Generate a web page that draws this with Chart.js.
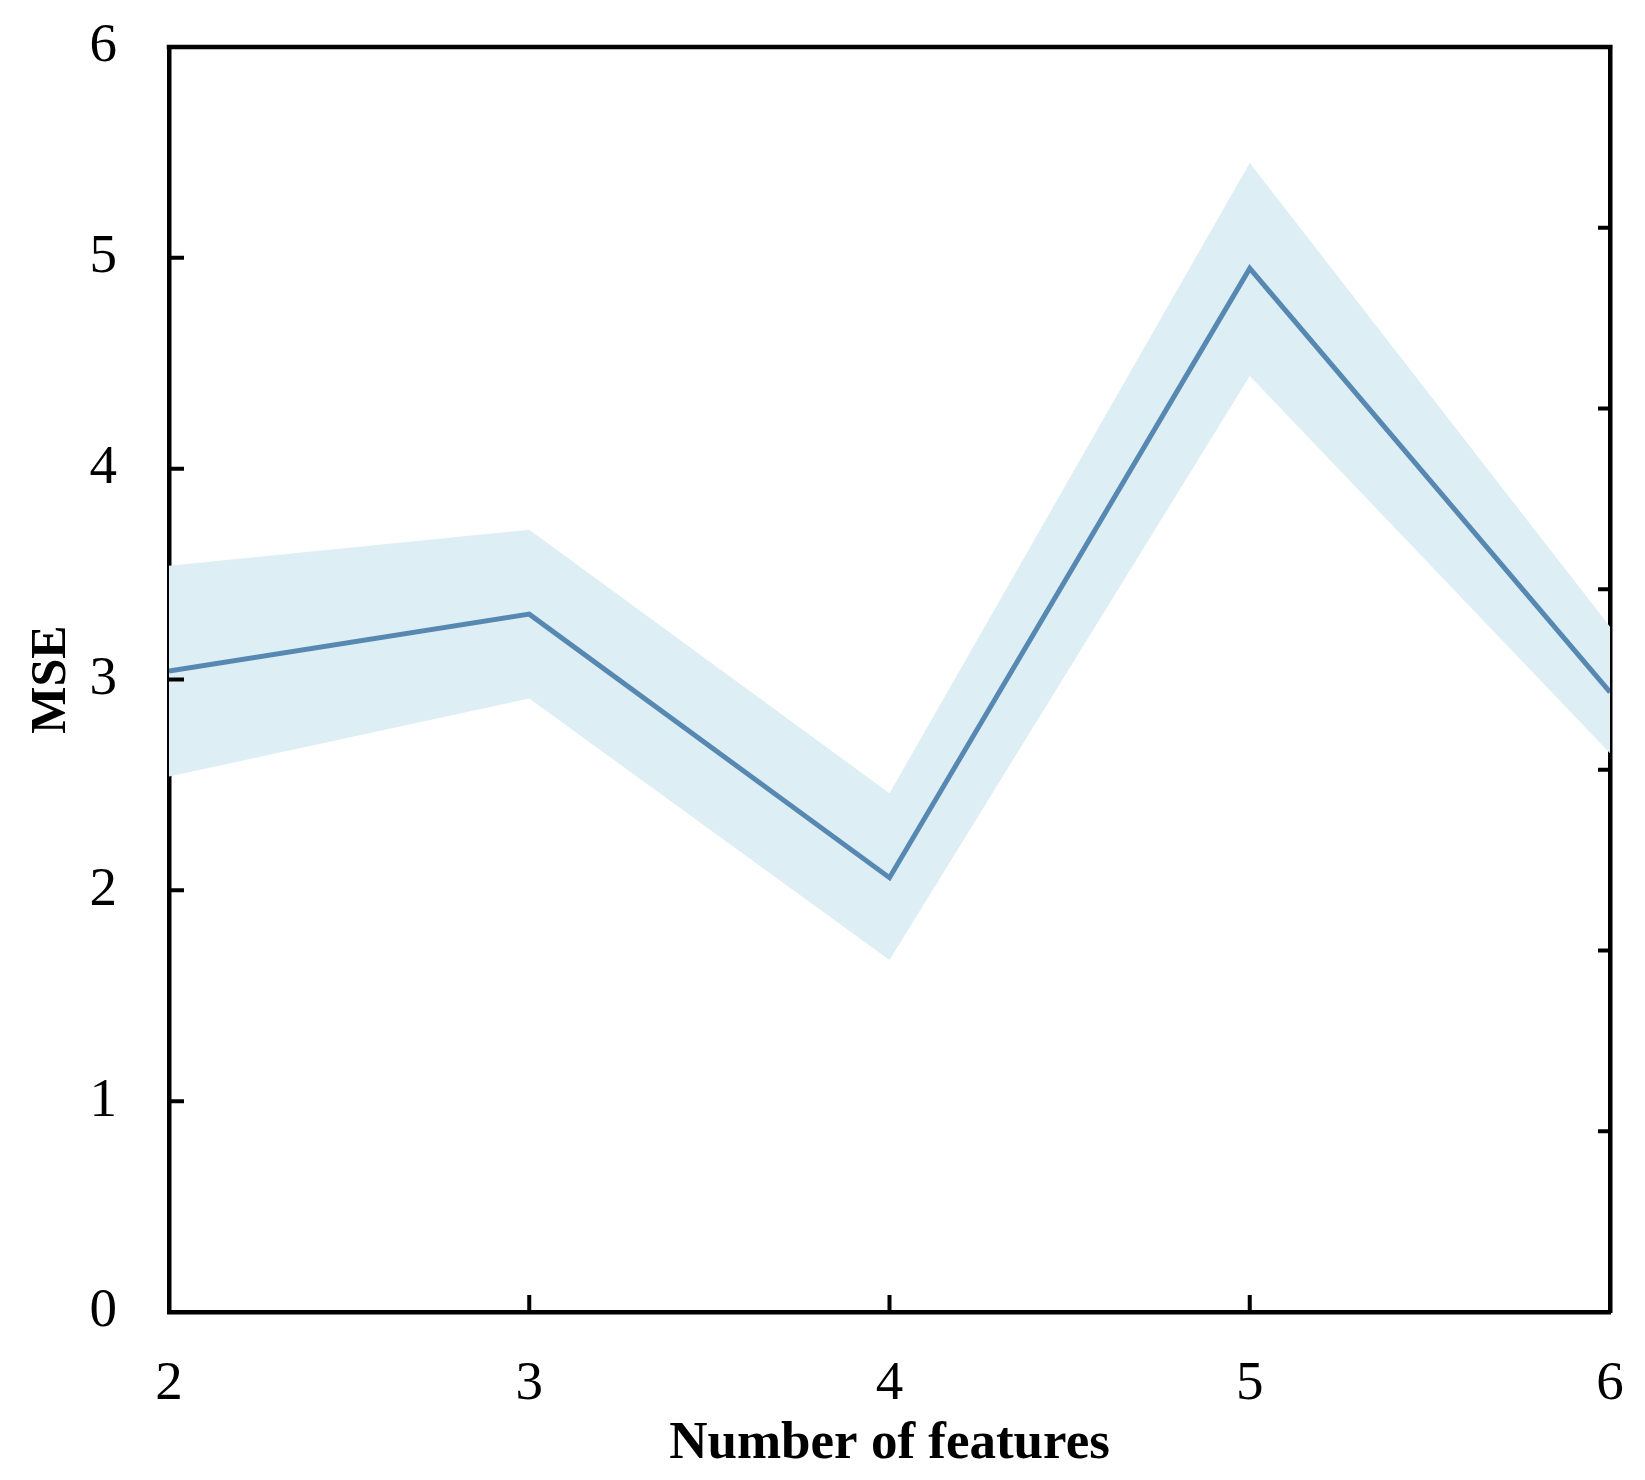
<!DOCTYPE html>
<html>
<head>
<meta charset="utf-8">
<script src="https://cdn.jsdelivr.net/npm/chart.js@4/dist/chart.umd.min.js"></script>
<style>
  html, body { margin: 0; padding: 0; background: #fff; }
  #chart { display: block; }
</style>
</head>
<body>
<canvas id="chart" width="1645" height="1480"></canvas>
<script>
// Values.
const features = [2, 3, 4, 5, 6];
const mse = [3.04, 3.31, 2.06, 4.95, 2.94];
const mseUpper = [3.54, 3.71, 2.46, 5.45, 3.25];
const mseLower = [2.54, 2.91, 1.67, 4.44, 2.65];
const yTicks = [0, 1, 2, 3, 4, 5, 6];
const rightTicks = [1, 2, 3, 4, 5, 6]; // unlabelled twin axis, 0..7

const LINE_COLOR = "#5688b1";
const BAND_COLOR = "#ddeef5";
const FONT = "'Liberation Serif', 'DejaVu Serif', serif";

const pts = (ys) => features.map((x, i) => ({x, y: ys[i]}));

// Labels are allowed to hang past the plot frame, as in the original figure,
// so the scales must not reserve overflow room for them.
const noOverflow = (s) => {
  s.paddingTop = 0;
  s.paddingBottom = 0;
  s.paddingLeft = 0;
  s.paddingRight = 0;
};

// Frame top edge plus inward-pointing tick marks, placed through the scales.
const frameTicks = {
  id: "frameTicks",
  afterDraw(chart) {
    const {ctx, chartArea: {left, right, top, bottom}} = chart;
    const {x, y, y2} = chart.scales;
    ctx.save();
    ctx.strokeStyle = "#000";
    ctx.lineWidth = 4.5;
    ctx.lineCap = "square";
    ctx.beginPath();
    ctx.moveTo(left, top);
    ctx.lineTo(right, top);
    ctx.stroke();
    ctx.lineCap = "butt";
    ctx.lineWidth = 4;
    ctx.beginPath();
    for (const v of yTicks) {
      const py = y.getPixelForValue(v);
      ctx.moveTo(left, py);
      ctx.lineTo(left + 15, py);
    }
    for (const v of features) {
      const px = x.getPixelForValue(v);
      ctx.moveTo(px, bottom);
      ctx.lineTo(px, bottom - 17);
    }
    for (const v of rightTicks) {
      const py = y2.getPixelForValue(v);
      ctx.moveTo(right, py);
      ctx.lineTo(right - 12, py);
    }
    ctx.stroke();
    ctx.restore();
  },
};

new Chart(document.getElementById("chart"), {
  type: "line",
  data: {
    datasets: [
      {
        label: "MSE",
        data: pts(mse),
        borderColor: LINE_COLOR,
        borderWidth: 5,
        pointRadius: 0,
        fill: false,
        tension: 0,
        order: 0,
      },
      {
        label: "upper",
        data: pts(mseUpper),
        borderWidth: 0,
        borderColor: "rgba(0,0,0,0)",
        pointRadius: 0,
        backgroundColor: BAND_COLOR,
        fill: "+1",
        order: 1,
      },
      {
        label: "lower",
        data: pts(mseLower),
        borderWidth: 0,
        borderColor: "rgba(0,0,0,0)",
        pointRadius: 0,
        fill: false,
        order: 1,
      },
    ],
  },
  options: {
    responsive: false,
    animation: false,
    layout: {padding: {top: 47, right: 0, bottom: 0, left: 0}},
    plugins: {legend: {display: false}, tooltip: {enabled: false}},
    scales: {
      x: {
        type: "linear",
        min: 2,
        max: 6,
        afterFit: (s) => { s.height = 168; noOverflow(s); },
        afterBuildTicks: (s) => { s.ticks = features.map((v) => ({value: v})); },
        grid: {display: false, drawTicks: false},
        border: {display: true, color: "#000", width: 4.5},
        ticks: {color: "#000", font: {family: FONT, size: 55}, padding: 40, maxRotation: 0},
        title: {display: true, text: "Number of features", color: "#000",
                font: {family: FONT, size: 53, weight: "bold"}, padding: {top: 0, bottom: 4}},
      },
      y: {
        position: "left",
        min: 0,
        max: 6,
        afterFit: (s) => { s.width = 169; noOverflow(s); },
        afterBuildTicks: (s) => { s.ticks = yTicks.map((v) => ({value: v})); },
        grid: {display: false, drawTicks: false},
        border: {display: true, color: "#000", width: 4.5},
        ticks: {color: "#000", font: {family: FONT, size: 55}, padding: 52},
        title: {display: true, text: "MSE", color: "#000",
                font: {family: FONT, size: 50, weight: "bold"}, padding: {top: 22, bottom: 0}},
      },
      y2: {
        position: "right",
        min: 0,
        max: 7,
        afterFit: (s) => { s.width = 35; noOverflow(s); },
        grid: {display: false, drawTicks: false},
        border: {display: true, color: "#000", width: 4.5},
        ticks: {display: false},
      },
    },
  },
  plugins: [frameTicks],
});
</script>
</body>
</html>
